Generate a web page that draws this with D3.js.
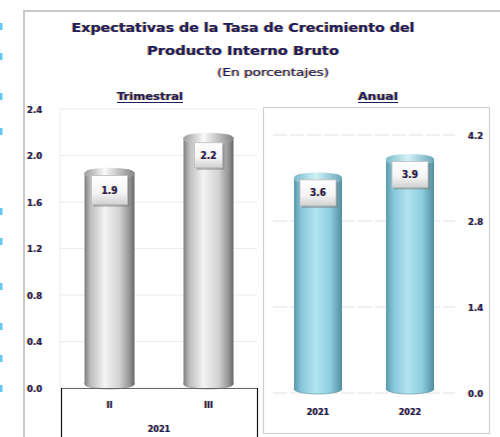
<!DOCTYPE html>
<html lang="es">
<head>
<meta charset="UTF-8">
<title>Expectativas PIB</title>
<style>
html,body{margin:0;width:500px;height:437px;overflow:hidden;background:#fff;}
svg{display:block;font-family:"DejaVu Sans Condensed","DejaVu Sans",Arial,sans-serif;}
.ink{fill:#1e1e5c;text-shadow:-0.7px 0 0 rgba(214,150,40,.75),0.7px 0 0 rgba(60,90,200,.35);}
</style>
</head>
<body>
<svg width="500" height="437"></svg>
<script src="https://d3js.org/d3.v7.min.js"></script>
<script>
// data
const quarters = ["II","III"];
const quarterYear = "2021";
const quarterValues = [1.9, 2.2];
const quarterTicks = [0, 0.4, 0.8, 1.2, 1.6, 2.0, 2.4];
const years = ["2021","2022"];
const yearValues = [3.6, 3.9];
const yearTicks = [0, 1.4, 2.8, 4.2];
const titleLines = ["Expectativas de la Tasa de Crecimiento del","Producto Interno Bruto"];
const subtitle = "(En porcentajes)";

const svg = d3.select("svg");
const fmt = d3.format(".1f");

// gradients
const defs = svg.append("defs");
function grad(id, stops){
  const g = defs.append("linearGradient").attr("id",id).attr("x1","0").attr("x2","1").attr("y1","0").attr("y2","0");
  stops.forEach(([o,c])=>g.append("stop").attr("offset",o).attr("stop-color",c));
}
grad("gray",[[0,"#7e7e7e"],[0.12,"#bdbdbd"],[0.4,"#f4f4f4"],[0.7,"#d2d2d2"],[0.9,"#959595"],[1,"#666"]]);
grad("grayTop",[[0,"#a0a0a0"],[0.4,"#fafafa"],[1,"#858585"]]);
grad("cyan",[[0,"#5a9aad"],[0.15,"#86c6d8"],[0.45,"#b2e4f1"],[0.75,"#8ecedf"],[1,"#528ea0"]]);
grad("cyanTop",[[0,"#7fbccc"],[0.45,"#d2f2f8"],[1,"#6eaabb"]]);
const lg = defs.append("linearGradient").attr("id","box").attr("x1","0").attr("x2","0").attr("y1","0").attr("y2","1");
[[0,"#ffffff"],[0.6,"#f4f4f4"],[1,"#d0d0d0"]].forEach(([o,c])=>lg.append("stop").attr("offset",o).attr("stop-color",c));

// stray cut-off marks at left edge (from a neighbouring page)
[30,60,100,135,215,245,290,330,362,392].forEach(y=>{
  svg.append("rect").attr("x",0).attr("y",y-7).attr("width",2.5).attr("height",i=>7)
    .attr("fill","#3cbaf0").attr("opacity",0.8);
});

// outer frame
svg.append("rect").attr("x",24).attr("y",11).attr("width",490).attr("height",440)
  .attr("fill","none").attr("stroke","#c9c9c9").attr("stroke-width",2);

// titles
titleLines.forEach((t,i)=>{
  svg.append("text").attr("class","ink").attr("x",243).attr("y",32+i*23)
    .attr("text-anchor","middle").style("font-size","13px").style("font-weight","bold")
    .attr("textLength",i?192:343).attr("lengthAdjust","spacingAndGlyphs").text(t);
});
svg.append("text").attr("class","ink").attr("x",273).attr("y",76).attr("text-anchor","middle")
  .style("font-size","10px").attr("textLength",112).attr("lengthAdjust","spacingAndGlyphs").text(subtitle);

function header(x,t,w){
  svg.append("text").attr("class","ink").attr("x",x).attr("y",100).attr("text-anchor","middle")
    .style("font-size","10px").style("font-weight","bold").attr("textLength",w).attr("lengthAdjust","spacingAndGlyphs").text(t);
  svg.append("line").attr("x1",x-w/2).attr("x2",x+w/2).attr("y1",102.5).attr("y2",102.5)
    .attr("stroke","#1e1e5c").attr("stroke-width",1);
}
header(150,"Trimestral",66);
header(378,"Anual",40);

// cylinder
function cylinder(g, x, w, yTop, yBase, fillId, topId, edge){
  const ry = 5;
  g.append("ellipse").attr("cx",x+w/2).attr("cy",yBase-ry+1).attr("rx",w/2).attr("ry",ry)
    .attr("fill",`url(#${fillId})`).attr("stroke",edge).attr("stroke-width",0.6);
  g.append("rect").attr("x",x).attr("y",yTop+ry).attr("width",w).attr("height",yBase-ry+1-(yTop+ry))
    .attr("fill",`url(#${fillId})`);
  g.append("rect").attr("x",x).attr("y",yTop+2).attr("width",w).attr("height",ry+4).attr("rx",w/2*0.35).attr("ry",ry)
    .attr("fill",`url(#${topId})`);
  g.append("ellipse").attr("cx",x+w/2).attr("cy",yTop+ry).attr("rx",w/2-1).attr("ry",ry-0.5)
    .attr("fill",`url(#${topId})`).attr("opacity",0.9);
}
function valueBox(g, cx, cy, w, h, txt){
  g.append("rect").attr("x",cx-w/2+2).attr("y",cy-h/2+2).attr("width",w).attr("height",h)
    .attr("fill","#7a7a7a").attr("opacity",0.55);
  g.append("rect").attr("x",cx-w/2).attr("y",cy-h/2).attr("width",w).attr("height",h)
    .attr("fill","url(#box)").attr("stroke","#bdbdbd").attr("stroke-width",0.8);
  g.append("text").attr("class","ink").attr("x",cx).attr("y",cy+3.5).attr("text-anchor","middle")
    .style("font-size","10px").style("font-weight","bold").text(txt);
}

// left panel (quarterly)
const yL = d3.scaleLinear().domain([0,2.4]).range([388,109]);
const xL = d3.scaleBand().domain(quarters).range([61,257]).paddingInner(0.495).paddingOuter(0.2375);
const left = svg.append("g");
left.selectAll("line.grid").data(quarterTicks).join("line").attr("class","grid")
  .attr("x1",60).attr("x2",257).attr("y1",d=>yL(d)).attr("y2",d=>yL(d))
  .attr("stroke","#ececec").attr("stroke-width",1);
left.append("line").attr("x1",60).attr("x2",60).attr("y1",yL(2.4)).attr("y2",yL(0)).attr("stroke","#ececec");
left.selectAll("text.tick").data(quarterTicks).join("text").attr("class","tick ink")
  .attr("x",27).attr("y",d=>yL(d)+3.5).style("font-size","9.5px").style("font-weight","bold").text(fmt);
quarters.forEach((q,i)=>{
  const x = xL(q), w = xL.bandwidth();
  cylinder(left, x, w, yL(quarterValues[i]), yL(0), "gray", "grayTop", "#8a8a8a");
});
quarters.forEach((q,i)=>{
  const cx = xL(q)+xL.bandwidth()/2;
  valueBox(left, cx, yL(quarterValues[i])+23, i?28:36, i?25:29, fmt(quarterValues[i]));
});
// category box
left.append("line").attr("x1",61).attr("x2",257).attr("y1",yL(0)+0.5).attr("y2",yL(0)+0.5).attr("stroke","#666");
left.append("line").attr("x1",61.5).attr("x2",61.5).attr("y1",yL(0)).attr("y2",437).attr("stroke","#111").attr("stroke-width",1.2);
left.append("line").attr("x1",257.5).attr("x2",257.5).attr("y1",yL(0)).attr("y2",437).attr("stroke","#111").attr("stroke-width",1.2);
left.selectAll("text.cat").data(quarters).join("text").attr("class","cat ink")
  .attr("x",d=>xL(d)+xL.bandwidth()/2).attr("y",408).attr("text-anchor","middle")
  .style("font-size","9px").style("font-weight","bold").text(d=>d);
left.append("text").attr("class","ink").attr("x",159).attr("y",432).attr("text-anchor","middle")
  .style("font-size","9px").style("font-weight","bold").text(quarterYear);

// right panel (annual)
const right = svg.append("g");
right.append("rect").attr("x",263.5).attr("y",107.5).attr("width",226).attr("height",326)
  .attr("fill","#fff").attr("stroke","#cfcfcf").attr("stroke-width",1.2);
const yR = d3.scaleLinear().domain([0,4.2]).range([393,135]);
const xR = d3.scaleBand().domain(years).range([273,455]).paddingInner(0.478).paddingOuter(0.228);
right.selectAll("line.grid").data(yearTicks).join("line").attr("class","grid")
  .attr("x1",273).attr("x2",455).attr("y1",d=>yR(d)).attr("y2",d=>yR(d))
  .attr("stroke","#e2e2e2").attr("stroke-width",1).attr("stroke-dasharray","14,3");
right.selectAll("text.tick").data(yearTicks).join("text").attr("class","tick ink")
  .attr("x",468).attr("y",d=>yR(d)+3.5).style("font-size","9.5px").style("font-weight","bold").text(fmt);
years.forEach((yv,i)=>{
  cylinder(right, xR(yv), xR.bandwidth(), yR(yearValues[i]), yR(0), "cyan", "cyanTop", "#4f8a9b");
});
years.forEach((yv,i)=>{
  const cx = xR(yv)+xR.bandwidth()/2;
  valueBox(right, cx, yR(yearValues[i])+21, 36, 26, fmt(yearValues[i]));
});
right.selectAll("text.cat").data(years).join("text").attr("class","cat ink")
  .attr("x",d=>xR(d)+xR.bandwidth()/2).attr("y",415).attr("text-anchor","middle")
  .style("font-size","9px").style("font-weight","bold").text(d=>d);
</script>
</body>
</html>
